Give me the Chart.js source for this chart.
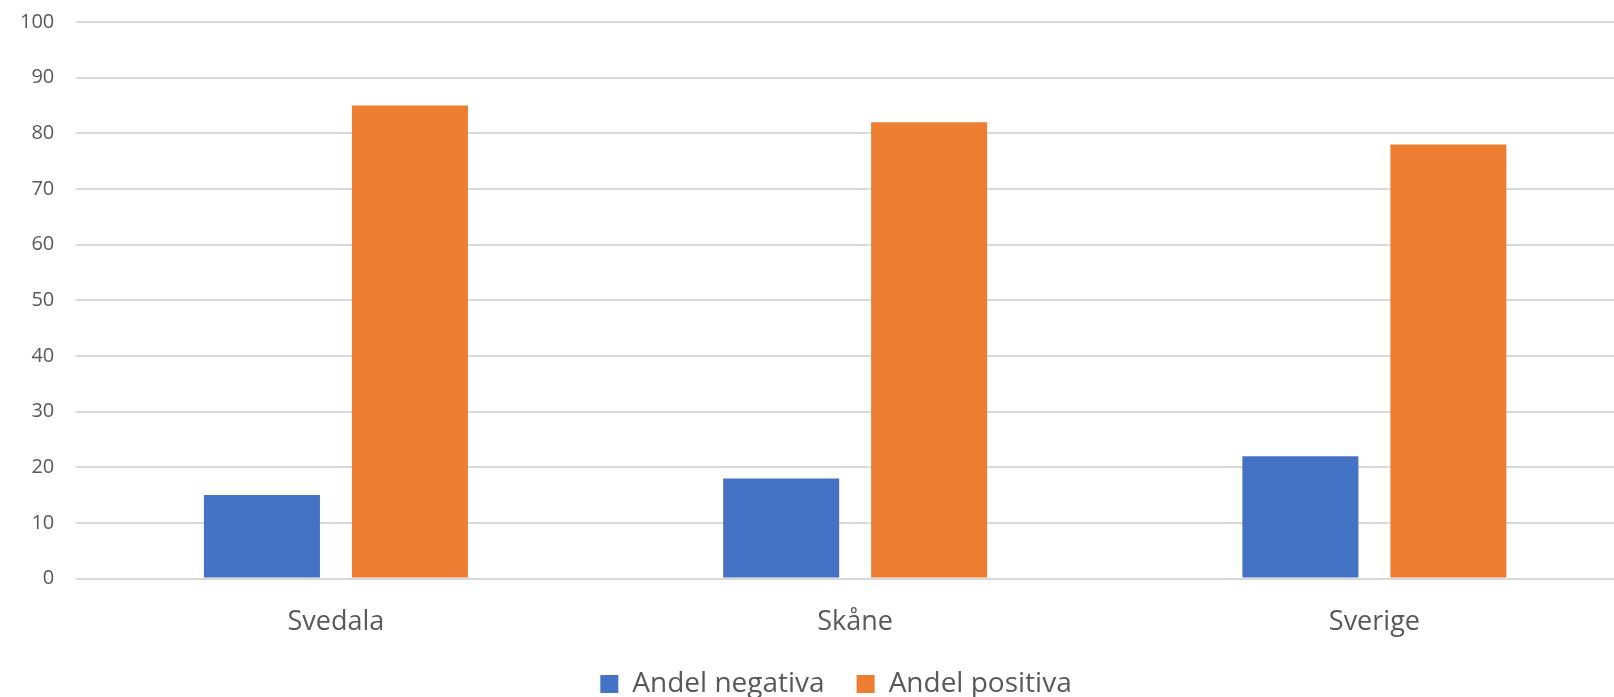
<!DOCTYPE html>
<html>
<head>
<meta charset="utf-8">
<script src="https://cdn.jsdelivr.net/npm/chart.js@4"></script>
<style>
    html, body { margin: 0; padding: 0; background: #fff; overflow: hidden; }
    /* canvas is a little larger than the window: the plot runs past the right edge like the original */
    #chart { display: block; position: absolute; left: -2px; top: -12px; }
</style>
</head>
<body>
<canvas id="chart" width="1636" height="720"></canvas>
<script>
// Regions and shares (percent)
const categories = ['Svedala', 'Skåne', 'Sverige'];
const negativa = [15, 18, 22];
const positiva = [85, 82, 78];
const seriesNames = ['Andel negativa', 'Andel positiva'];

const textColor = '#595959';
const fontFamily = "'Open Sans', 'Liberation Sans', sans-serif";

// the legend in the original sits a bit right of the middle
const legendShift = {
    id: 'legendShift',
    afterLayout: (chart) => {
        if (chart.legend) {
            chart.legend.left += 20;
            chart.legend.right += 20;
        }
    }
};

const ctx = document.getElementById('chart').getContext('2d');
new Chart(ctx, {
    type: 'bar',
    data: {
        labels: categories,
        datasets: [
            { label: seriesNames[0], data: negativa, backgroundColor: '#4472C4' },
            { label: seriesNames[1], data: positiva, backgroundColor: '#ED7D31' }
        ]
    },
    options: {
        responsive: false,
        animation: false,
        layout: { padding: { top: 7, right: 0, left: 0, bottom: 0 } },
        datasets: {
            bar: { categoryPercentage: 0.57, barPercentage: 0.784 }
        },
        plugins: {
            tooltip: { enabled: false },
            legend: {
                position: 'bottom',
                labels: {
                    color: textColor,
                    font: { family: fontFamily, size: 28 },
                    boxWidth: 18,
                    boxHeight: 18,
                    padding: 32
                }
            }
        },
        scales: {
            x: {
                grid: { display: false },
                border: { display: false },
                ticks: { color: textColor, font: { family: fontFamily, size: 27 }, padding: 20 },
                afterFit: (axis) => { axis.height -= 21; }
            },
            y: {
                min: 0,
                max: 100,
                ticks: { stepSize: 10, color: textColor, font: { family: fontFamily, size: 20 }, padding: 22 },
                grid: { color: '#D9D9D9', lineWidth: 2, drawTicks: false },
                border: { display: false }
            }
        }
    },
    plugins: [legendShift]
});
</script>
</body>
</html>
